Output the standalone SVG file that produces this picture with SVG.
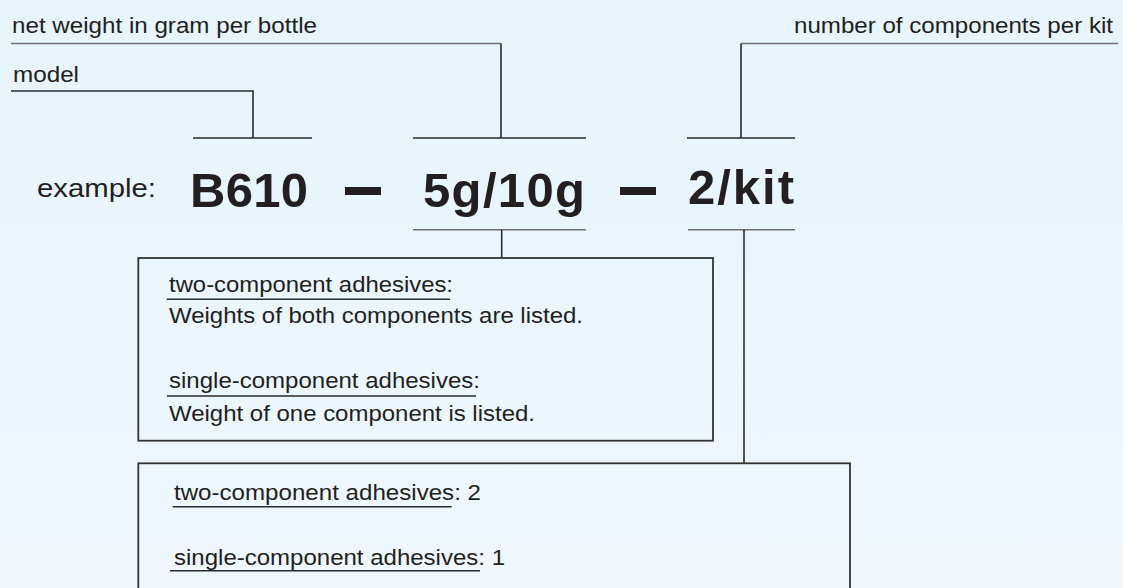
<svg xmlns="http://www.w3.org/2000/svg" width="1123" height="588" viewBox="0 0 1123 588">
<defs>
<linearGradient id="bg" x1="0" y1="0" x2="0" y2="1">
<stop offset="0" stop-color="#e6f4fc"/>
<stop offset="1" stop-color="#eff7fd"/>
</linearGradient>
<style>
.t{font-family:"Liberation Sans",Arial,Helvetica,sans-serif;fill:#231f20}
.lbl{font-size:22px}
.bx{font-size:22px}
.big{font-size:49px;font-weight:bold}
.ln{stroke:#2b2b2b;stroke-width:1.6;fill:none}
.lg{stroke:#707070;stroke-width:1.6;fill:none}
.box{stroke:#333;stroke-width:1.8;fill:none}
.ul{stroke:#2b2b2b;stroke-width:1.6}
</style>
</defs>
<rect x="0" y="0" width="1123" height="588" fill="url(#bg)"/>

<g id="connectors">
<polyline class="lg" points="11,43.5 501,43.5"/>
<polyline class="ln" points="501,43.5 501,138"/>
<polyline class="lg" points="741,43.5 1118,43.5"/>
<polyline class="ln" points="741,43.5 741,138"/>
<polyline class="ln" points="11,91 253,91 253,138"/>
<line class="ln" x1="193" y1="138" x2="312" y2="138"/>
<line class="ln" x1="413" y1="138" x2="586" y2="138"/>
<line class="ln" x1="687" y1="138" x2="795" y2="138"/>
<line class="lg" x1="413" y1="229.7" x2="586" y2="229.7"/>
<line class="ln" x1="501.7" y1="229.7" x2="501.7" y2="258"/>
<line class="lg" x1="688" y1="229.7" x2="795" y2="229.7"/>
<line class="ln" x1="744" y1="229.7" x2="744" y2="463"/>
</g>

<g id="label-weight">
<text class="t lbl" x="12" y="33.3" textLength="305" lengthAdjust="spacingAndGlyphs">net weight in gram per bottle</text>
</g>
<g id="label-model">
<text class="t lbl" x="13" y="81.7" textLength="66" lengthAdjust="spacingAndGlyphs">model</text>
</g>
<g id="label-components">
<text class="t lbl" x="794" y="33.3" textLength="319" lengthAdjust="spacingAndGlyphs">number of components per kit</text>
</g>

<g id="example">
<text class="t" x="37" y="197.3" font-size="25" textLength="119" lengthAdjust="spacingAndGlyphs">example:</text>
<g id="code-model"><text class="t big" x="190" y="206.7" textLength="118">B610</text></g>
<rect x="345" y="187" width="36" height="8" fill="#231f20"/>
<g id="code-weight"><text class="t big" x="423" y="206.7" textLength="162">5g/10g</text></g>
<rect x="620" y="187" width="36" height="8" fill="#231f20"/>
<g id="code-kit"><text class="t big" x="688" y="204" textLength="106">2/kit</text></g>
</g>

<g id="box-weight">
<rect class="box" x="138.3" y="258" width="574.7" height="182.7"/>
<text class="t bx" x="169" y="291.7" textLength="284" lengthAdjust="spacingAndGlyphs">two-component adhesives:</text>
<line class="ul" x1="166.7" y1="299.3" x2="450" y2="299.3"/>
<text class="t bx" x="169" y="323" textLength="414" lengthAdjust="spacingAndGlyphs">Weights of both components are listed.</text>
<text class="t bx" x="169" y="388" textLength="311" lengthAdjust="spacingAndGlyphs">single-component adhesives:</text>
<line class="ul" x1="167" y1="396" x2="476" y2="396"/>
<text class="t bx" x="169" y="420.7" textLength="366" lengthAdjust="spacingAndGlyphs">Weight of one component is listed.</text>
</g>

<g id="box-kit">
<rect class="box" x="138.3" y="463.3" width="711.7" height="140"/>
<text class="t bx" x="174" y="500" textLength="307" lengthAdjust="spacingAndGlyphs">two-component adhesives: 2</text>
<line class="ul" x1="172.7" y1="506.7" x2="451.7" y2="506.7"/>
<text class="t bx" x="174" y="565" textLength="331" lengthAdjust="spacingAndGlyphs">single-component adhesives: 1</text>
<line class="ul" x1="170" y1="570.7" x2="480" y2="570.7"/>
</g>
</svg>
